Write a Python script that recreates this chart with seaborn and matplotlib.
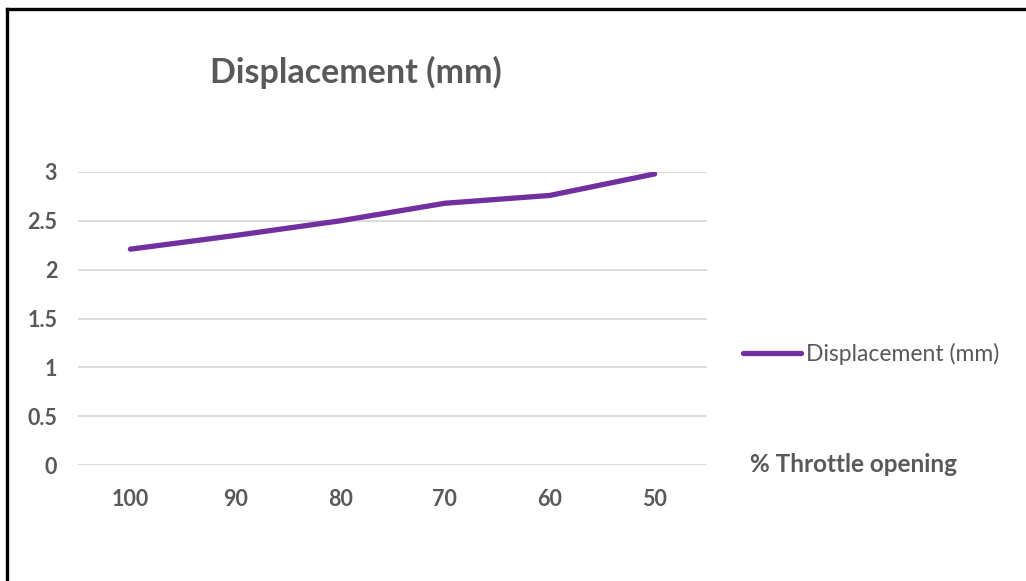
import matplotlib
matplotlib.use("Agg")
import matplotlib.pyplot as plt
from matplotlib.lines import Line2D
import seaborn as sns
import pandas as pd

throttle = ["100", "90", "80", "70", "60", "50"]
displacement = [2.21, 2.35, 2.50, 2.68, 2.76, 2.98]
y_ticks = [0, 0.5, 1, 1.5, 2, 2.5, 3]
y_tick_labels = ["0", "0.5", "1", "1.5", "2", "2.5", "3"]
series_name = "Displacement (mm)"
x_title = "% Throttle opening"

sns.set_theme(style="white")
plt.rcParams["font.family"] = ["Lato", "DejaVu Sans"]

W, H = 1026, 581
TEXT = "#595959"
fig = plt.figure(figsize=(W / 100, H / 100), dpi=100)
ax = fig.add_axes([78 / W, 1 - 465 / H, (707 - 78) / W, (465 - 172) / H])

df = pd.DataFrame({"throttle": throttle, "value": displacement})
sns.lineplot(data=df, x="throttle", y="value", ax=ax, color="#7030A0",
             linewidth=3.8, solid_capstyle="round", label=series_name,
             legend=False)

ax.set_xlim(-0.5, len(throttle) - 0.5)
ax.set_ylim(0, 3)
ax.set_yticks(y_ticks)
ax.set_yticklabels(y_tick_labels)
ax.grid(axis="y", color="#D9D9D9", linewidth=1.3)
ax.grid(axis="x", visible=False)
ax.set_axisbelow(True)
for s in ax.spines.values():
    s.set_visible(False)
ax.tick_params(axis="both", length=0, labelsize=15.5, labelcolor=TEXT)
ax.tick_params(axis="y", pad=15)
ax.tick_params(axis="x", pad=17)
for lbl in ax.get_xticklabels() + ax.get_yticklabels():
    lbl.set_fontweight("bold")
ax.set_xlabel("")
ax.set_ylabel("")

fig.text(356 / W, 1 - 72 / H, series_name, ha="center", va="center",
         fontsize=24.5, fontweight="bold", color=TEXT)

fig.text(750 / W, 1 - 465 / H, x_title, ha="left", va="center",
         fontsize=17.5, fontweight="bold", color=TEXT)

handles, labels = ax.get_legend_handles_labels()
fig.legend(handles, labels, loc="center left",
           bbox_to_anchor=(743 / W, 1 - 354 / H), frameon=False,
           handlelength=2.55, handletextpad=0.18, borderaxespad=0,
           borderpad=0, prop={"size": 16.5}, labelcolor=TEXT)

# frame edges along the top and left
fig.add_artist(Line2D([6.5 / W, 6.5 / W], [0, 1 - 8.5 / H],
                      transform=fig.transFigure, color="black", linewidth=2.4,
                      solid_capstyle="projecting"))
fig.add_artist(Line2D([6.5 / W, 1], [1 - 8.5 / H, 1 - 8.5 / H],
                      transform=fig.transFigure, color="black", linewidth=2.4,
                      solid_capstyle="projecting"))

fig.savefig("out.png", dpi=100, facecolor="white")
